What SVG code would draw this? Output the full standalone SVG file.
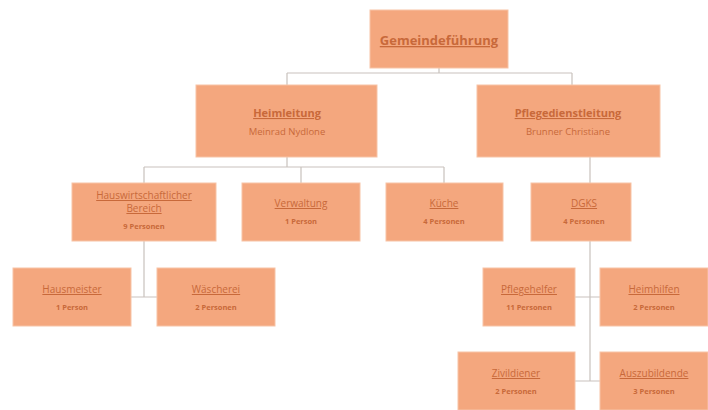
<svg xmlns="http://www.w3.org/2000/svg" width="708" height="410" viewBox="0 0 708 410">
<style>
.box{fill:#f4a77e;stroke:#f7c3a6;stroke-width:1}
.t{font-family:"Open Sans","Liberation Sans",sans-serif;fill:#c8693a;text-anchor:middle;text-decoration:underline}
.s{font-family:"Open Sans","Liberation Sans",sans-serif;fill:#c8693a;text-anchor:middle}
.c{fill:none;stroke:#c9c2bd;stroke-width:1.2}
</style>
<rect width="708" height="410" fill="#ffffff"/>
<g id="connectors">
<path class="c" d="M439 68V73M287 73H572M287 73V85M572 73V85"/>
<path class="c" d="M287 157V167M144 167H444M144 167V183M301 167V183M444 167V183"/>
<path class="c" d="M590 157V183"/>
<path class="c" d="M144 241V297M131 297H157"/>
<path class="c" d="M590 241V381M575 297H600M575 381H600"/>
</g>
<g id="gemeindefuehrung"><rect class="box" x="370" y="10" width="138" height="58"/><text class="t" x="439" y="45" font-size="13" font-weight="bold">Gemeindeführung</text></g>
<g id="heimleitung"><rect class="box" x="196" y="85" width="181" height="72"/><text class="t" x="287" y="117" font-size="11" font-weight="bold">Heimleitung</text><text class="s" x="287" y="135" font-size="9.5">Meinrad Nydlone</text></g>
<g id="pflegedienstleitung"><rect class="box" x="477" y="85" width="183" height="72"/><text class="t" x="568" y="117" font-size="11" font-weight="bold">Pflegedienstleitung</text><text class="s" x="568" y="135" font-size="9.5">Brunner Christiane</text></g>
<g id="hauswirtschaft"><rect class="box" x="72" y="183" width="144" height="58"/><text class="t" x="144" y="199" font-size="10">Hauswirtschaftlicher</text><text class="t" x="144" y="212" font-size="10">Bereich</text><text class="s" x="144" y="229" font-size="7.5" font-weight="bold">9 Personen</text></g>
<g id="verwaltung"><rect class="box" x="242" y="183" width="118" height="58"/><text class="t" x="301" y="207" font-size="10">Verwaltung</text><text class="s" x="301" y="224" font-size="7.5" font-weight="bold">1 Person</text></g>
<g id="kueche"><rect class="box" x="386" y="183" width="117" height="58"/><text class="t" x="444" y="207" font-size="10">Küche</text><text class="s" x="444" y="224" font-size="7.5" font-weight="bold">4 Personen</text></g>
<g id="dgks"><rect class="box" x="531" y="183" width="100" height="58"/><text class="t" x="584" y="207" font-size="10">DGKS</text><text class="s" x="584" y="224" font-size="7.5" font-weight="bold">4 Personen</text></g>
<g id="hausmeister"><rect class="box" x="13" y="268" width="118" height="58"/><text class="t" x="72" y="293" font-size="10">Hausmeister</text><text class="s" x="72" y="310" font-size="7.5" font-weight="bold">1 Person</text></g>
<g id="waescherei"><rect class="box" x="157" y="268" width="118" height="58"/><text class="t" x="216" y="293" font-size="10">Wäscherei</text><text class="s" x="216" y="310" font-size="7.5" font-weight="bold">2 Personen</text></g>
<g id="pflegehelfer"><rect class="box" x="483" y="268" width="92" height="58"/><text class="t" x="529" y="293" font-size="10">Pflegehelfer</text><text class="s" x="529" y="310" font-size="7.5" font-weight="bold">11 Personen</text></g>
<g id="heimhilfen"><rect class="box" x="600" y="268" width="108" height="58"/><text class="t" x="654" y="293" font-size="10">Heimhilfen</text><text class="s" x="654" y="310" font-size="7.5" font-weight="bold">2 Personen</text></g>
<g id="zivildiener"><rect class="box" x="458" y="352" width="117" height="58"/><text class="t" x="516" y="377" font-size="10">Zivildiener</text><text class="s" x="516" y="394" font-size="7.5" font-weight="bold">2 Personen</text></g>
<g id="auszubildende"><rect class="box" x="600" y="352" width="108" height="58"/><text class="t" x="654" y="377" font-size="10">Auszubildende</text><text class="s" x="654" y="394" font-size="7.5" font-weight="bold">3 Personen</text></g>
</svg>
